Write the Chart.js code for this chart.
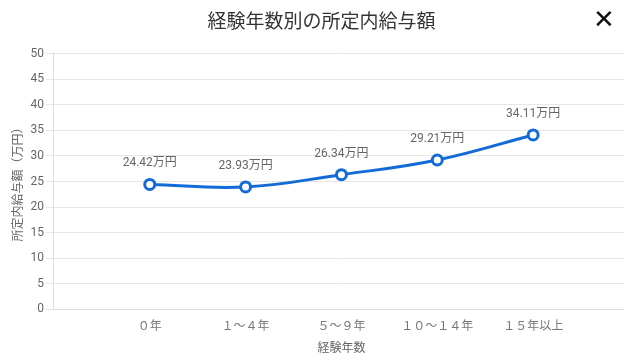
<!DOCTYPE html>
<html>
<head>
<meta charset="utf-8">
<script src="https://cdn.jsdelivr.net/npm/chart.js@4"></script>
<style>
  html, body { margin: 0; padding: 0; background: #fff; overflow: hidden; }
  #wrap { position: relative; width: 637px; height: 364px; }
  #closeBtn {
    position: absolute; left: 593px; top: 4px;
    font: bold 26px "DejaVu Sans", sans-serif; color: #111;
  }
</style>
</head>
<body>
<div id="wrap">
  <canvas id="salaryChart" width="637" height="364"></canvas>
  <div id="closeBtn">✕</div>
</div>
<script>
const categories = ["", "０年", "１～４年", "５～９年", "１０～１４年", "１５年以上", ""];
const salaries = [null, 24.42, 23.93, 26.34, 29.21, 34.11, null];
const yTicks = [0, 5, 10, 15, 20, 25, 30, 35, 40, 45, 50];

const jpFont = "'Noto Sans CJK JP', 'Noto Sans', sans-serif";
const numFont = "Roboto, 'Noto Sans CJK JP', sans-serif";

// draws "xx.xx万円" above each point
const valueLabels = {
  id: 'valueLabels',
  afterDatasetsDraw(chart) {
    const ctx = chart.ctx;
    const meta = chart.getDatasetMeta(0);
    ctx.save();
    ctx.font = "12px " + numFont;
    ctx.fillStyle = "#666";
    ctx.textAlign = "center";
    ctx.textBaseline = "middle";
    meta.data.forEach((pt, i) => {
      if (salaries[i] == null) return;
      ctx.fillText(salaries[i].toFixed(2) + "万円", pt.x, pt.y - 21);
    });
    ctx.restore();
  }
};

const ctx = document.getElementById('salaryChart').getContext('2d');
new Chart(ctx, {
  type: 'line',
  data: {
    labels: categories,
    datasets: [{
      data: salaries,
      borderColor: '#136bd8',
      borderWidth: 3,
      tension: 0.4,
      pointRadius: 5,
      pointHoverRadius: 5,
      pointBorderWidth: 3,
      pointBackgroundColor: '#fff',
      pointBorderColor: '#136bd8',
      spanGaps: false
    }]
  },
  options: {
    responsive: false,
    animation: false,
    layout: { padding: { top: 0, right: 0, bottom: 9, left: 6 } },
    plugins: {
      legend: { display: false },
      tooltip: { enabled: false },
      title: {
        display: true,
        text: '経験年数別の所定内給与額',
        color: '#333',
        font: { family: jpFont, size: 19, weight: 'normal' },
        padding: { top: 9, bottom: 22 }
      }
    },
    scales: {
      x: {
        offset: false,
        grid: { display: false },
        border: { display: true, color: '#ddd' },
        ticks: { color: '#777', font: { family: jpFont, size: 12 }, maxRotation: 0, autoSkip: false, padding: 1 },
        title: { display: true, text: '経験年数', color: '#666', font: { family: jpFont, size: 12 }, padding: { top: 7, bottom: 0 } }
      },
      y: {
        min: 0,
        max: 50,
        afterBuildTicks: (axis) => { axis.ticks = yTicks.map(v => ({ value: v })); },
        grid: { color: '#e6e6e6', tickLength: 8 },
        border: { color: '#ddd' },
        ticks: { color: '#666', font: { family: numFont, size: 12 }, padding: 2 },
        title: { display: true, text: '所定内給与額（万円）', color: '#666', font: { family: jpFont, size: 12 }, padding: { bottom: 4 } }
      }
    }
  },
  plugins: [valueLabels]
});
</script>
</body>
</html>
